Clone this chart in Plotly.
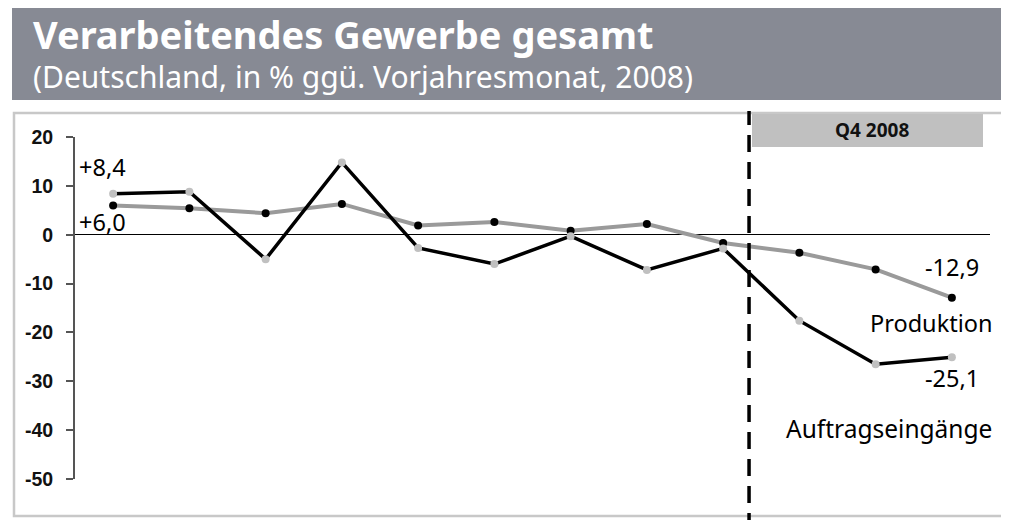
import plotly.graph_objects as go

# ---- data ----
months = ["Jan", "Feb", "Mär", "Apr", "Mai", "Jun", "Jul", "Aug", "Sep", "Okt", "Nov", "Dez"]
auftragseingaenge = [8.4, 8.8, -5.0, 14.8, -2.7, -6.0, -0.3, -7.2, -2.8, -17.6, -26.5, -25.1]
produktion = [6.0, 5.4, 4.4, 6.3, 1.9, 2.6, 0.8, 2.2, -1.7, -3.7, -7.1, -12.9]
y_ticks = [20, 10, 0, -10, -20, -30, -40, -50]
q4_start = 8.34  # position of the Q4 divider on the category axis

title = "Verarbeitendes Gewerbe gesamt"
subtitle = "(Deutschland, in % ggü. Vorjahresmonat, 2008)"

# ---- layout geometry (page pixels; the page body has an 8px margin) ----
OFF = 8
W, H = 1009 - OFF, 520 - OFF
L, R, T, B = 75 - OFF, 19, 137 - OFF, 41
PW, PH = W - L - R, H - T - B


def px(x):
    return (x - OFF - L) / PW


def py(y):
    return (H - B - (y - OFF)) / PH


FONT = "Noto Sans"

fig = go.Figure()
fig.add_trace(go.Scatter(
    x=months, y=produktion, mode="lines+markers", name="Produktion",
    line=dict(color="#9a9a9a", width=4),
    marker=dict(color="black", size=8),
    cliponaxis=False,
))
fig.add_trace(go.Scatter(
    x=months, y=auftragseingaenge, mode="lines+markers", name="Auftragseingänge",
    line=dict(color="black", width=3.5),
    marker=dict(color="#c0c0c0", size=8),
    cliponaxis=False,
))

shapes = [
    # header band
    dict(type="rect", xref="paper", yref="paper", x0=px(12), x1=px(1020), y0=py(100), y1=py(5),
         fillcolor="#878a94", line=dict(width=0), layer="below"),
    # chart frame
    dict(type="rect", xref="paper", yref="paper", x0=px(14), x1=px(1025), y0=py(516), y1=py(113),
         fillcolor="rgba(0,0,0,0)", line=dict(color="#c8c8c8", width=2.5), layer="below"),
    # Q4 box
    dict(type="rect", xref="paper", yref="paper", x0=px(752), x1=px(983), y0=py(147), y1=py(114),
         fillcolor="#c0c0c0", line=dict(width=0), layer="below"),
    # Q4 divider
    dict(type="line", xref="x", yref="paper", x0=q4_start, x1=q4_start, y0=py(530), y1=py(111),
         line=dict(color="black", width=3.5, dash="17px,10px"), layer="above"),
]

annotations = [
    dict(text="<b>" + title + "</b>", x=px(31), y=py(34), xanchor="left", yanchor="middle",
         font=dict(family=FONT, size=38, color="white")),
    dict(text=subtitle, x=px(31), y=py(76), xanchor="left", yanchor="middle",
         font=dict(family=FONT, size=30, color="white")),
    dict(text="<b>Q4 2008</b>", x=px(872), y=py(130), xanchor="center", yanchor="middle",
         font=dict(family=FONT, size=19, color="#111111")),
    dict(text="+8,4", x=px(77), y=py(167), xanchor="left", yanchor="middle",
         font=dict(family=FONT, size=23.5, color="black")),
    dict(text="+6,0", x=px(77), y=py(222), xanchor="left", yanchor="middle",
         font=dict(family=FONT, size=23.5, color="black")),
    dict(text="-12,9", x=px(981), y=py(267), xanchor="right", yanchor="middle",
         font=dict(family=FONT, size=23.5, color="black")),
    dict(text="Produktion", x=px(994), y=py(323), xanchor="right", yanchor="middle",
         font=dict(family=FONT, size=23.5, color="black")),
    dict(text="-25,1", x=px(981), y=py(378), xanchor="right", yanchor="middle",
         font=dict(family=FONT, size=23.5, color="black")),
    dict(text="Auftragseingänge", x=px(994), y=py(428), xanchor="right", yanchor="middle",
         font=dict(family=FONT, size=24.5, color="black")),
]
for a in annotations:
    a.update(xref="paper", yref="paper", showarrow=False)

fig.update_layout(
    width=W, height=H,
    margin=dict(l=L, r=R, t=T, b=B, pad=0),
    paper_bgcolor="white", plot_bgcolor="rgba(0,0,0,0)",
    showlegend=False,
    shapes=shapes, annotations=annotations,
    xaxis=dict(type="category", range=[-0.5, 11.5], visible=False, showgrid=False),
    yaxis=dict(range=[-50, 20], tickvals=y_ticks, ticktext=[str(v) for v in y_ticks],
               showgrid=False, showline=True, linecolor="#555555", linewidth=2,
               ticks="outside", ticklen=7, tickcolor="#555555", tickwidth=1.5,
               zeroline=True, zerolinecolor="black", zerolinewidth=1.2,
               ticklabelstandoff=9,
               tickfont=dict(family="Liberation Sans", size=19.5, color="#111111", weight="bold")),
)

fig.write_html("out.html")
